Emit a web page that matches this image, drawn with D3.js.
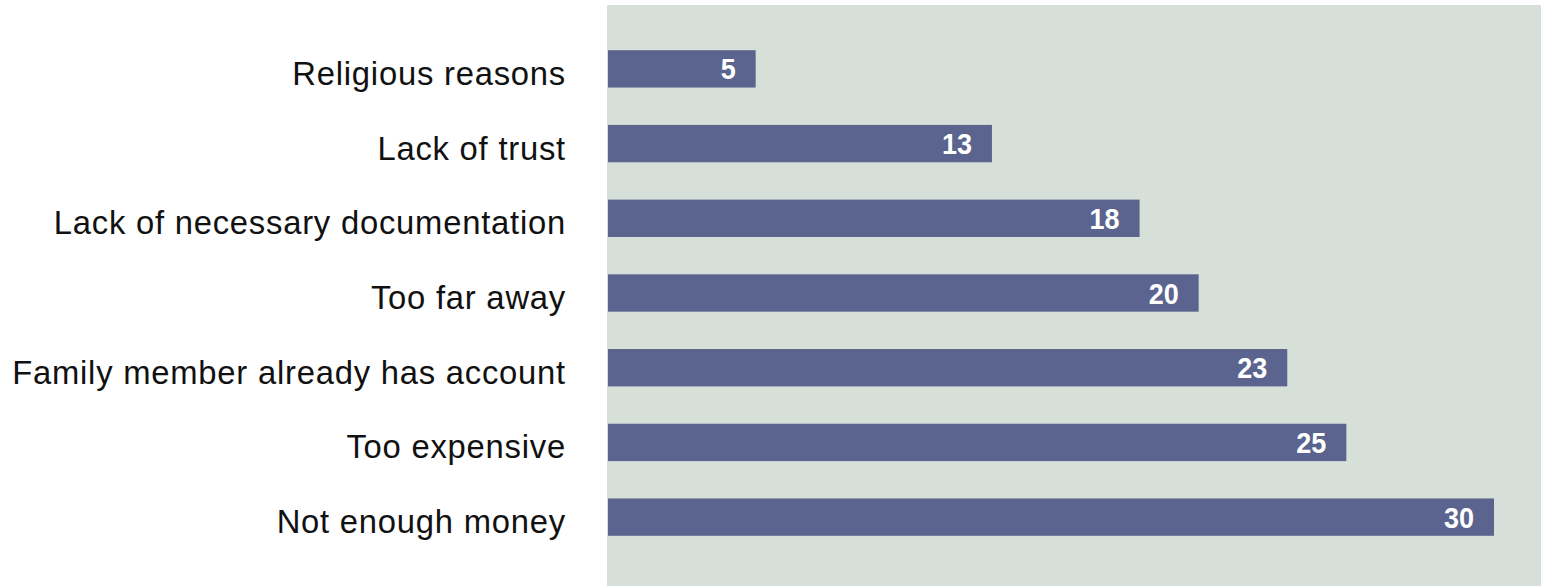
<!DOCTYPE html>
<html>
<head>
<meta charset="utf-8">
<script src="https://cdn.jsdelivr.net/npm/d3@7"></script>
<style>
  html, body { margin: 0; padding: 0; background: #ffffff; }
  svg { display: block; }
</style>
</head>
<body>
<svg id="chart" width="1541" height="586"></svg>
<script>
// Reasons for not having an account (percent of respondents)
const categories = [
  "Religious reasons",
  "Lack of trust",
  "Lack of necessary documentation",
  "Too far away",
  "Family member already has account",
  "Too expensive",
  "Not enough money"
];
const values = [5, 13, 18, 20, 23, 25, 30];

const W = 1541, H = 586;
const plotLeft = 608, plotTop = 5;
const font = "'Liberation Sans', Arial, sans-serif";

const svg = d3.select("#chart");

const x = d3.scaleLinear().domain([0, 30]).range([plotLeft, 1494]);
const y = d3.scaleBand().domain(categories).range([plotTop, 581])
  .paddingInner(0.5).paddingOuter(0.605);

// panel background
svg.append("rect")
  .attr("x", plotLeft - 1).attr("y", plotTop)
  .attr("width", W - plotLeft + 1).attr("height", H - plotTop)
  .attr("fill", "#d6e0d9");

// bars
svg.selectAll("rect.bar")
  .data(values)
  .join("rect")
  .attr("class", "bar")
  .attr("x", x(0))
  .attr("y", (d, i) => y(categories[i]))
  .attr("width", d => x(d) - x(0))
  .attr("height", y.bandwidth())
  .attr("fill", "#5a648e");

// value labels inside bar ends (condensed by horizontal scaling)
svg.selectAll("text.val")
  .data(values)
  .join("text")
  .attr("class", "val")
  .attr("transform", (d, i) =>
    `translate(${x(d) - 20},${y(categories[i]) + y.bandwidth() / 2}) scale(0.9,1)`)
  .attr("dy", "0.35em")
  .attr("text-anchor", "end")
  .attr("fill", "#ffffff")
  .attr("font-family", font)
  .attr("font-weight", "bold")
  .attr("font-size", 30)
  .text(d => d);

// category labels, condensed so the longest one spans the left margin
const labelRight = 566, labelWidth = 554;
const cats = svg.selectAll("text.cat")
  .data(categories)
  .join("text")
  .attr("class", "cat")
  .attr("dy", "0.47em")
  .attr("text-anchor", "end")
  .attr("fill", "#111111")
  .attr("font-family", font)
  .attr("font-size", 34)
  .attr("letter-spacing", 0.8)
  .text(d => d);

const longest = d3.max(cats.nodes(), n => n.getComputedTextLength());
const sx = labelWidth / longest;
cats.attr("transform", d =>
  `translate(${labelRight},${y(d) + y.bandwidth() / 2}) scale(${sx},1)`);
</script>
</body>
</html>
